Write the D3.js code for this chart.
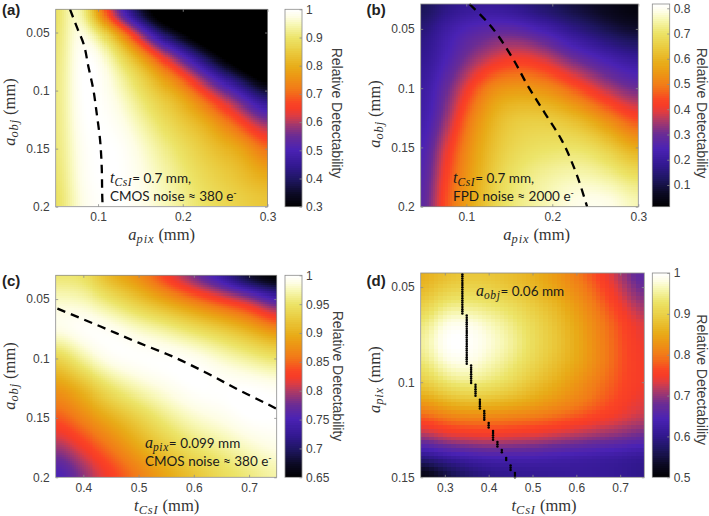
<!DOCTYPE html>
<html><head><meta charset="utf-8">
<style>html,body{margin:0;padding:0;background:#fff}svg{display:block}</style>
<script src="https://cdn.jsdelivr.net/npm/d3@7"></script></head><body>
<svg id="c" width="709" height="516"></svg>
<script>
// ---------- colormap ----------
const cmapStops=[0,.07,.14,.21,.29,.36,.43,.47,.5,.53,.57,.6,.67,.71,.79,.86,.93,.965,1];
const cmapColors=["#000000","#0c0a24","#1e1660","#321890","#4a22b4","#6a2c94","#b03a64","#e03c40","#f63c28","#fa4424","#f4641c","#f27a18","#ec9a14","#e8ac18","#eacc40","#ece468","#f8f8b8","#fefde4","#ffffff"];

// ---------- panel (a) ----------
const aX=[.05,.075,.1,.125,.15,.175,.2,.225,.25,.275,.3];
const aY=[.03,.05,.075,.1,.125,.15,.175,.2];
const aZ=[
[.85,1,.72,.45,.3,.2,.14,.1,.07,.05,.04],
[.87,1,.925,.775,.58,.39,.29,.2,.13,.08,.05],
[.885,1,1,.91,.82,.70,.56,.43,.31,.21,.13],
[.89,1,1,.96,.895,.83,.77,.655,.55,.455,.335],
[.89,.995,1,.985,.94,.89,.84,.80,.72,.63,.54],
[.89,.985,1,1,.97,.93,.89,.85,.815,.78,.69],
[.88,.98,1,1,.98,.95,.915,.88,.855,.825,.795],
[.87,.97,.995,1,.985,.96,.93,.90,.88,.865,.85]];
const aLineX=[.0669,.0756,.0827,.0886,.0945,.0984,.1024,.1043,.1051,.1055];
const aLineY=[.03,.0464,.0593,.0794,.0995,.1196,.1426,.1655,.1943,.2];
const aCbTicks=[.3,.4,.5,.6,.7,.8,.9,1];

// ---------- panel (b) ----------
const bX=[.047,.075,.1,.125,.15,.175,.2,.225,.25,.275,.3];
const bY=[.029,.05,.075,.1,.125,.15,.175,.2];
const bZ=[
[.09,.15,.17,.18,.16,.13,.1,.075,.055,.035,.02],
[.14,.22,.26,.28,.29,.26,.22,.17,.13,.09,.07],
[.17,.24,.31,.37,.41,.41,.36,.3,.26,.22,.19],
[.19,.29,.4,.52,.55,.55,.52,.46,.39,.33,.29],
[.2,.32,.48,.58,.64,.65,.645,.615,.56,.49,.42],
[.21,.39,.52,.61,.665,.69,.70,.705,.685,.63,.565],
[.22,.43,.54,.63,.70,.73,.75,.76,.755,.73,.69],
[.23,.46,.56,.645,.715,.74,.77,.80,.81,.8,.76]];
const bLineX=[.1036,.1257,.1528,.1721,.1915,.2109,.2264,.2399,.2405];
const bLineY=[.029,.0453,.0734,.0987,.1212,.1438,.1691,.1986,.2];
const bCbTicks=[.1,.2,.3,.4,.5,.6,.7,.8];

// ---------- panel (c) ----------
const cX=[.35,.4,.45,.5,.55,.6,.65,.7,.75];
const cY=[.03,.05,.075,.1,.125,.15,.175,.2];
const cZ=[
[.95,.945,.9,.87,.82,.77,.72,.655,.63],
[.98,.975,.95,.92,.89,.86,.83,.8,.75],
[.99,1,.995,.98,.965,.945,.925,.9,.87],
[.93,.97,.995,1,1,.995,.98,.965,.95],
[.88,.91,.95,.975,.99,1,1,1,.995],
[.84,.87,.9,.93,.96,.98,.99,1,1],
[.79,.825,.86,.895,.925,.95,.965,.98,.99],
[.74,.785,.825,.86,.89,.915,.94,.955,.97]];
const cLineX=[.353,.4302,.5008,.5509,.6233,.6836,.7349,.75];
const cLineY=[.058,.0729,.0869,.0962,.1122,.1271,.1388,.1425];
const cCbTicks=[.65,.7,.75,.8,.85,.9,.95,1];

// ---------- panel (d) ----------
const dX=[.245,.3,.35,.4,.45,.5,.55,.6,.65,.7,.755];
const dY=[.0426,.05,.06,.07,.08,.09,.1,.11,.12,.13,.14,.15];
const dZ=[
[.855,.875,.885,.885,.875,.86,.835,.80,.76,.71,.65],
[.865,.895,.905,.9,.885,.87,.845,.815,.775,.725,.67],
[.895,.94,.945,.935,.92,.895,.87,.835,.795,.75,.70],
[.93,.985,.99,.97,.945,.915,.885,.85,.81,.77,.73],
[.945,.998,1,.98,.955,.92,.89,.855,.815,.775,.74],
[.925,.975,.985,.965,.94,.91,.88,.85,.815,.775,.745],
[.89,.93,.945,.935,.915,.885,.86,.83,.80,.77,.745],
[.835,.865,.88,.875,.865,.85,.83,.81,.785,.76,.735],
[.765,.79,.80,.80,.795,.79,.78,.765,.75,.735,.715],
[.69,.715,.725,.73,.725,.72,.71,.70,.69,.68,.665],
[.585,.61,.625,.635,.635,.635,.63,.625,.62,.615,.605],
[.5,.54,.57,.59,.6,.605,.61,.615,.615,.61,.6]];
const dOptT=[.34,.35,.36,.37,.38,.39,.40,.41,.42,.43,.44,.45,.46];
const dOptFrom=[.0432,.065,.0912,.1014,.1092,.1152,.1215,.1256,.1315,.1357,.1398,.1438,.1477];
const dOptTo=[.0638,.0903,.1004,.108,.114,.12,.1245,.13,.134,.1376,.1419,.146,.15];
const dCbTicks=[.5,.6,.7,.8,.9,1];

// ---------- panel layout ----------
const panels=[
 {tag:"(a)",tagX:2,tagY:15,xs:aX,ys:aY,z:aZ,dom:[.05,.3],domY:[.03,.2],box:[55.7,9.3,267.5,206.7],cb:[285,302],blur:4,
  xt:[.1,.2,.3],yt:[.05,.1,.15,.2],lo:.3,hi:1,cbt:aCbTicks,dx:.0024,dy:.0018,
  xl:["a","pix"],yl:["a","obj"],xlX:161.7,xlY:240,ylX:15,ylY:112,cblX:332,cblY:113,
  line:[aLineX,aLineY],
  notes:[{x:110,y:183,sym:["t","CsI"],txt:"= 0.7 mm,"},{x:110,y:201,txt:"CMOS noise ≈ 380 e",sup:"-"}]},
 {tag:"(b)",tagX:366.5,tagY:15,xs:bX,ys:bY,z:bZ,dom:[.047,.3],domY:[.029,.2],box:[420.7,4,638.3,206.7],cb:[652.3,669.7],blur:4,
  xt:[.1,.2,.3],yt:[.05,.1,.15,.2],lo:.014,hi:.817,cbt:bCbTicks,dx:.0024,dy:.0018,
  xl:["a","pix"],yl:["a","obj"],xlX:536.7,xlY:240,ylX:380,ylY:114,cblX:697,cblY:113,
  line:[bLineX,bLineY],
  notes:[{x:453,y:183,sym:["t","CsI"],txt:"= 0.7 mm,"},{x:453,y:201,txt:"FPD noise ≈ 2000 e",sup:"-"}]},
 {tag:"(c)",tagX:2,tagY:286,xs:cX,ys:cY,z:cZ,dom:[.35,.75],domY:[.03,.2],box:[55.7,275.3,276.7,477.3],cb:[285,302],blur:3,
  xt:[.4,.5,.6,.7],yt:[.05,.1,.15,.2],lo:.65,hi:1,cbt:cCbTicks,dx:.0036,dy:.0017,
  xl:["t","CsI"],yl:["a","obj"],xlX:166.7,xlY:511,ylX:15,ylY:376,cblX:333,cblY:376,
  line:[cLineX,cLineY],
  notes:[{x:145,y:448,sym:["a","pix"],txt:"= 0.099 mm"},{x:145,y:466,txt:"CMOS noise ≈ 380 e",sup:"-"}]},
 {tag:"(d)",tagX:366.5,tagY:286,xs:dX,ys:dY,z:dZ,dom:[.245,.755],domY:[.0426,.15],box:[420.7,273,644.3,477.3],cb:[652.3,669.7],blur:1,
  xt:[.3,.4,.5,.6,.7],yt:[.05,.1,.15],lo:.5,hi:1,cbt:dCbTicks,dx:.01,dy:.002,
  xl:["t","CsI"],yl:["a","pix"],xlX:544,xlY:511,ylX:380,ylY:379.7,cblX:697,cblY:379.7,
  dots:true,
  notes:[{x:476,y:296,sym:["a","obj"],txt:"= 0.06 mm"}]}
];

const svg=d3.select("#c");
const TICK="#404040", BOX="#8c8c8c", SERIF="'Liberation Serif',serif", SANS="'Liberation Sans',Arial,sans-serif", NOTE="Lato,'Open Sans',sans-serif";
const cmap=d3.scaleLinear().domain(cmapStops).range(cmapColors).clamp(true);
const cr=(p0,p1,p2,p3,t)=>.5*(2*p1+(p2-p0)*t+(2*p0-5*p1+4*p2-p3)*t*t+(3*p1-p0-3*p2+p3)*t*t*t);

function sampler(xs,ys,z){
  const xi=d3.scaleLinear().domain(xs).range(d3.range(xs.length)).clamp(true);
  const yi=d3.scaleLinear().domain(ys).range(d3.range(ys.length)).clamp(true);
  const at=(r,c)=>z[Math.max(0,Math.min(ys.length-1,r))][Math.max(0,Math.min(xs.length-1,c))];
  return (x,y)=>{
    const fx=xi(x),fy=yi(y),cx=Math.min(Math.floor(fx),xs.length-2),cy=Math.min(Math.floor(fy),ys.length-2);
    const row=r=>cr(at(r,cx-1),at(r,cx),at(r,cx+1),at(r,cx+2),fx-cx);
    return cr(row(cy-1),row(cy),row(cy+1),row(cy+2),fy-cy);
  };
}
function fmt(v){return String(+v.toFixed(3));}

panels.forEach(p=>{
  const [L,T,R,B]=p.box;
  const x=d3.scaleLinear().domain(p.dom).range([L,R]);
  const y=d3.scaleLinear().domain(p.domY).range([T,B]);
  const g=svg.append("g");
  const f=sampler(p.xs,p.ys,p.z);
  const norm=d3.scaleLinear().domain([p.lo,p.hi]).range([0,1]);
  // heat cells
  const xc=d3.range(p.dom[0]+p.dx/2,p.dom[1],p.dx), yc=d3.range(p.domY[0]+p.dy/2,p.domY[1],p.dy);
  const cells=[];
  yc.forEach(cy=>xc.forEach(cx=>cells.push([cx,cy,f(cx,cy)])));
  const grid={data:cells.map(c=>c[2]),width:xc.length,height:yc.length};
  d3.blur2(grid,p.blur);
  cells.forEach((c,i)=>c[2]=grid.data[i]);
  g.append("g").attr("shape-rendering","crispEdges").selectAll("rect").data(cells).join("rect")
    .attr("x",d=>x(d[0]-p.dx/2)).attr("y",d=>y(d[1]-p.dy/2))
    .attr("width",d=>Math.min(R,x(d[0]+p.dx/2)+.6)-x(d[0]-p.dx/2))
    .attr("height",d=>Math.min(B,y(d[1]+p.dy/2)+.6)-y(d[1]-p.dy/2))
    .attr("fill",d=>cmap(norm(d[2])));
  // optimum curve
  if(p.line){
    const ln=d3.line().x(i=>x(p.line[0][i])).y(i=>y(p.line[1][i])).curve(d3.curveMonotoneY);
    g.append("path").attr("d",ln(d3.range(p.line[0].length))).attr("fill","none").attr("stroke","#000")
     .attr("stroke-width",2.3).attr("stroke-dasharray","8.5,6");
  }
  if(p.dots){
    const pts=[];
    dOptT.forEach((t,i)=>d3.range(dOptFrom[i],dOptTo[i]+.0002,.00115).forEach(a=>pts.push([t,a])));
    g.append("g").selectAll("circle").data(pts).join("circle")
     .attr("cx",d=>x(d[0])).attr("cy",d=>y(d[1])).attr("r",1.25).attr("fill","#000");
  }
  // axes
  const style=s=>{s.selectAll("path").remove();s.selectAll("line").attr("stroke",BOX).attr("stroke-width",.8);
    s.selectAll("text").attr("fill",TICK).attr("font-family",SANS).attr("font-size",12);};
  svg.append("g").attr("transform",`translate(0,${B})`).call(d3.axisBottom(x).tickValues(p.xt).tickFormat(fmt).tickSizeInner(-2.5).tickSizeOuter(0).tickPadding(6)).call(style);
  svg.append("g").attr("transform",`translate(${L},0)`).call(d3.axisLeft(y).tickValues(p.yt).tickFormat(fmt).tickSizeInner(-2.5).tickSizeOuter(0).tickPadding(6)).call(style);
  svg.append("g").attr("transform",`translate(0,${T})`).call(d3.axisTop(x).tickValues(p.xt).tickFormat("").tickSizeInner(-2.5).tickSizeOuter(0)).call(style);
  svg.append("g").attr("transform",`translate(${R},0)`).call(d3.axisRight(y).tickValues(p.yt).tickFormat("").tickSizeInner(-2.5).tickSizeOuter(0)).call(style);
  svg.append("rect").attr("x",L).attr("y",T).attr("width",R-L).attr("height",B-T).attr("fill","none").attr("stroke",BOX).attr("stroke-width",.8);
  // colorbar
  const [c0,c1]=p.cb;
  const cby=d3.scaleLinear().domain([p.lo,p.hi]).range([B,T]);
  const bins=d3.range(0,100);
  const binV=d3.scaleLinear().domain([0,100]).range([p.lo,p.hi]);
  svg.append("g").attr("shape-rendering","crispEdges").selectAll("rect").data(bins).join("rect")
    .attr("x",c0).attr("width",c1-c0).attr("y",i=>cby(binV(i+1)))
    .attr("height",i=>cby(binV(i))-cby(binV(i+1))+(i>0?.7:0))
    .attr("fill",i=>cmap(norm(binV(i+.5))));
  svg.append("g").attr("transform",`translate(${c1},0)`).call(d3.axisRight(cby).tickValues(p.cbt).tickFormat(fmt).tickSizeInner(-2.5).tickSizeOuter(0).tickPadding(4)).call(style);
  svg.append("rect").attr("x",c0).attr("y",T).attr("width",c1-c0).attr("height",B-T).attr("fill","none").attr("stroke",BOX).attr("stroke-width",.8);
  svg.append("text").attr("transform",`translate(${p.cblX},${p.cblY}) rotate(90)`).attr("text-anchor","middle")
    .attr("font-family",SANS).attr("font-size",14).attr("fill",TICK).text("Relative Detectability");
  // axis titles
  const title=(el,sym)=>{
    el.attr("font-family",SERIF).attr("font-size",16.5).attr("fill","#333").attr("text-anchor","middle");
    el.append("tspan").attr("font-style","italic").text(sym[0]);
    el.append("tspan").attr("font-style","italic").attr("font-size",12.5).attr("dy",3).attr("letter-spacing",.8).text(sym[1]);
    el.append("tspan").attr("dy",-3).text(" (mm)");
  };
  title(svg.append("text").attr("x",p.xlX).attr("y",p.xlY),p.xl);
  title(svg.append("text").attr("transform",`translate(${p.ylX},${p.ylY}) rotate(-90)`),p.yl);
  // notes
  p.notes.forEach(n=>{
    const t=svg.append("text").attr("x",n.x).attr("y",n.y).attr("font-family",NOTE).attr("font-size",13.5).attr("fill","#1a1a1a");
    if(n.sym){
      t.append("tspan").attr("font-family",SERIF).attr("font-style","italic").attr("font-size",16).text(n.sym[0]);
      t.append("tspan").attr("font-family",SERIF).attr("font-style","italic").attr("font-size",11.5).attr("dy",3).attr("letter-spacing",.6).text(n.sym[1]);
      t.append("tspan").attr("dy",-3).text(n.txt);
    } else t.append("tspan").text(n.txt);
    if(n.sup) t.append("tspan").attr("dy",-5).attr("font-size",9).text(n.sup);
  });
  svg.append("text").attr("x",p.tagX).attr("y",p.tagY).attr("font-family",SANS).attr("font-weight","bold").attr("font-size",15).attr("fill","#222").text(p.tag);
});
</script></body></html>
